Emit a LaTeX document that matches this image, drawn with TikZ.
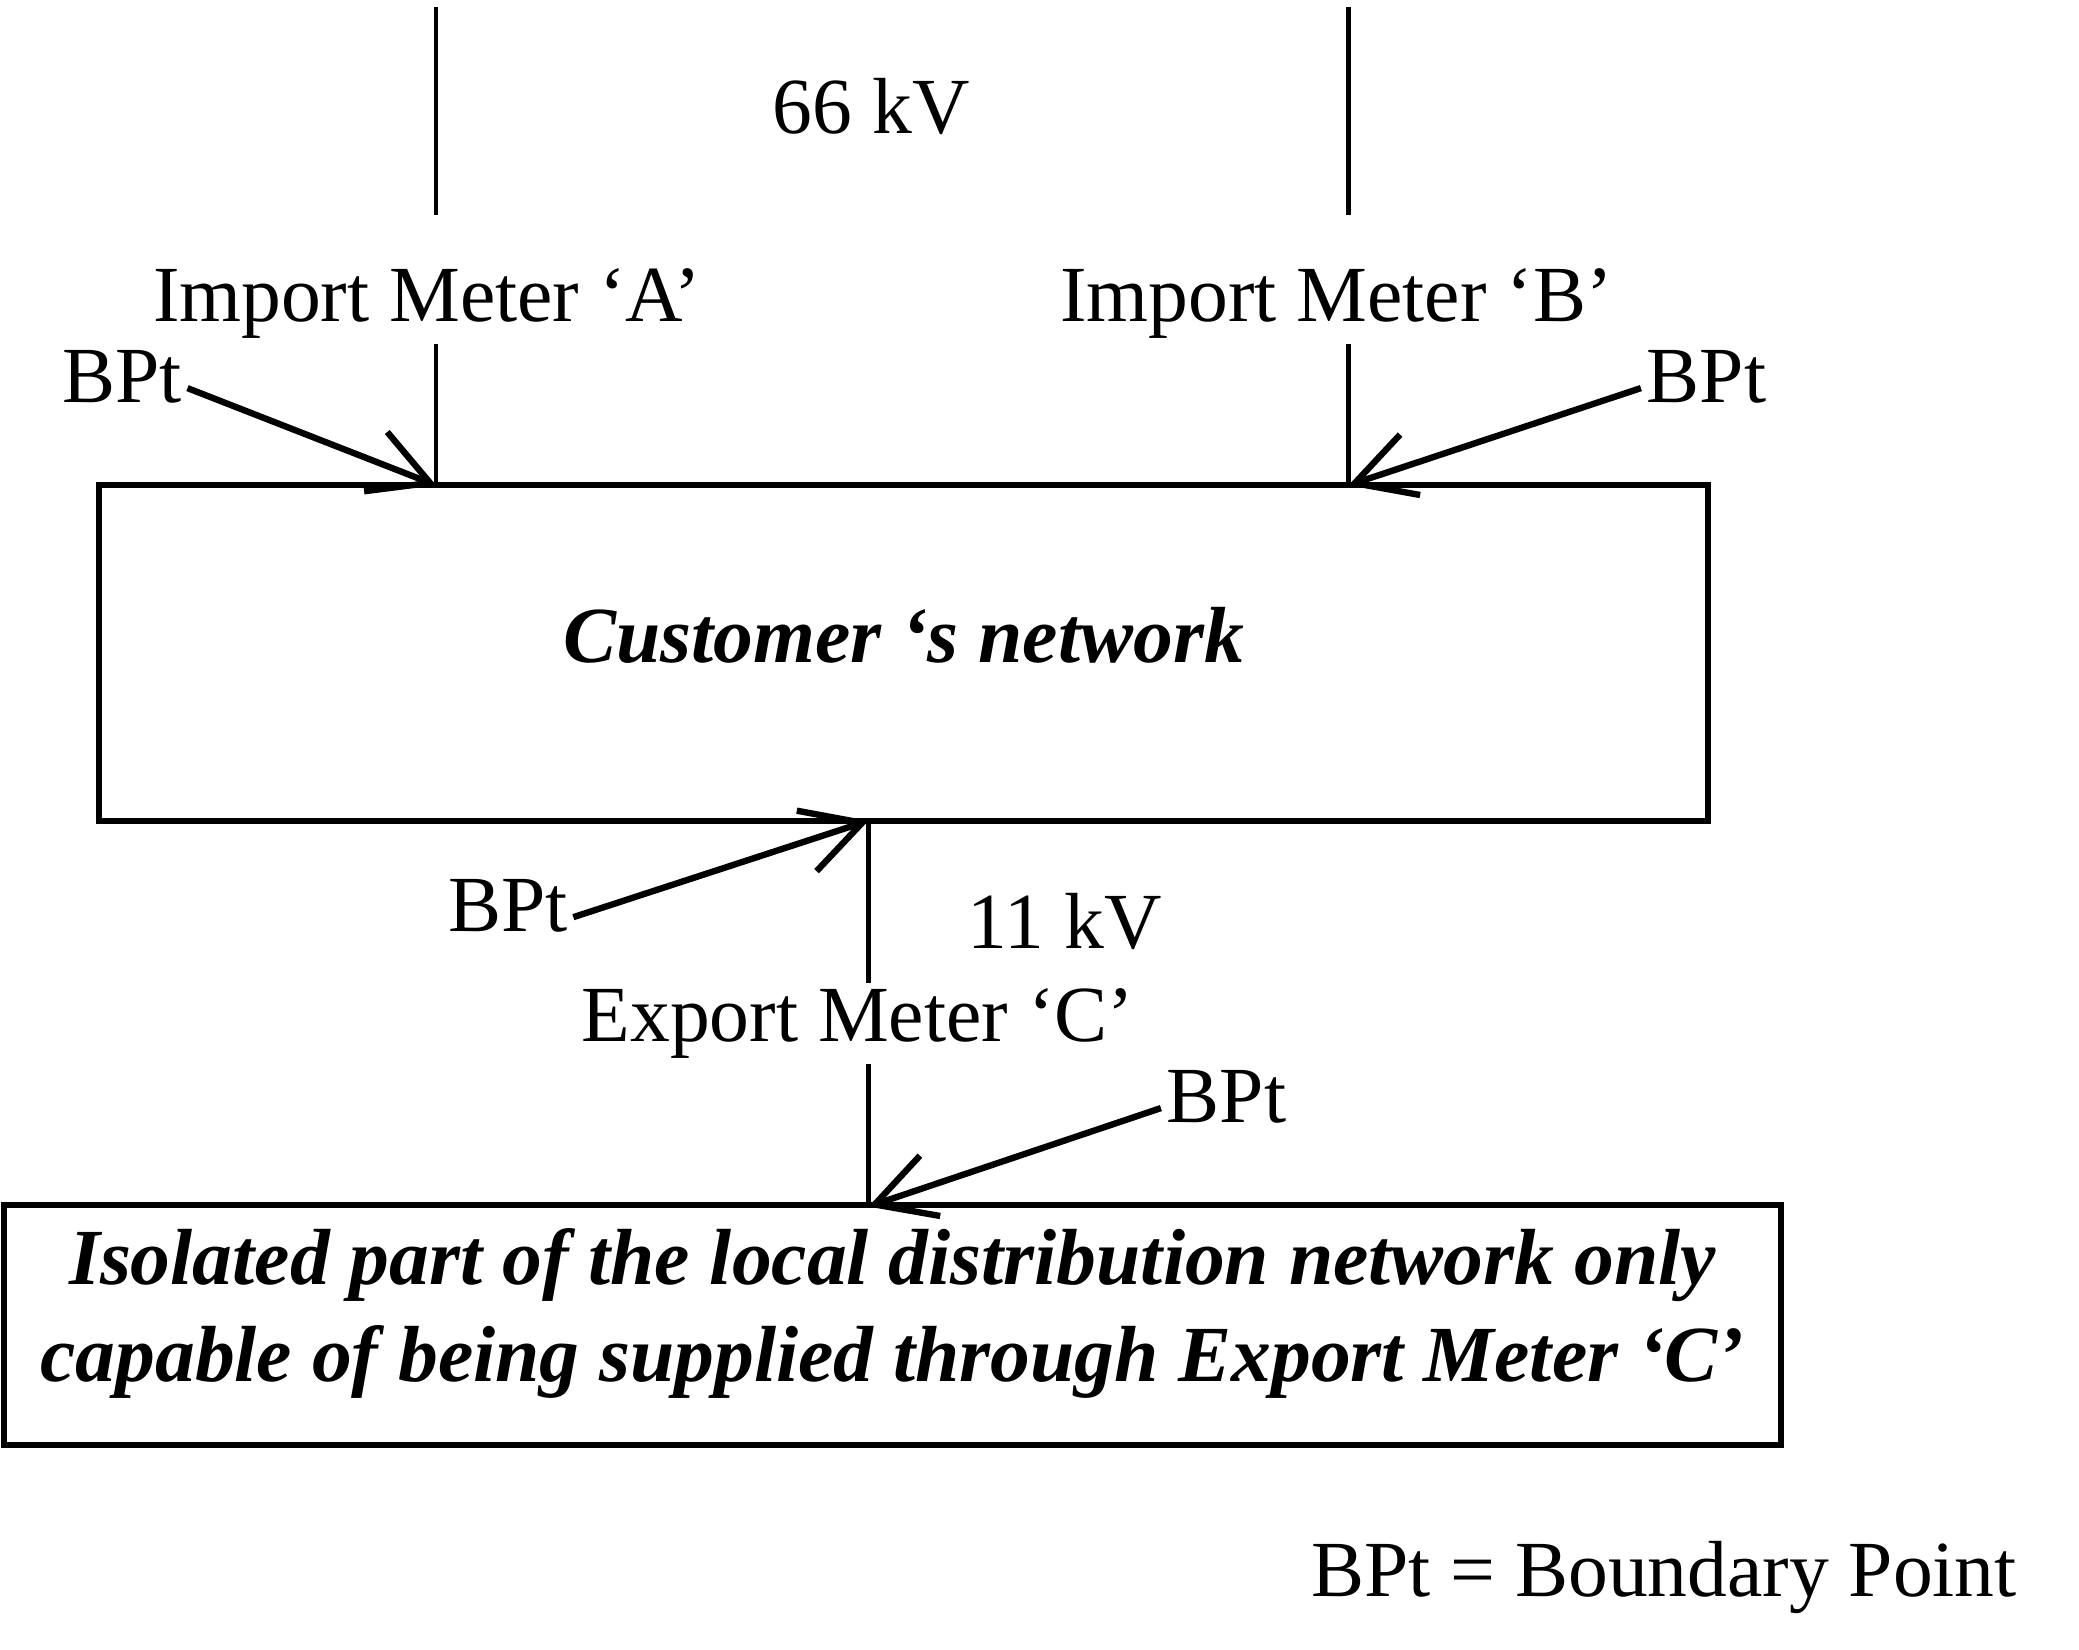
\documentclass[tikz,border=0pt]{standalone}
\usepackage{fontspec}
\setmainfont{Liberation Serif}
\usetikzlibrary{arrows.meta}
\begin{document}
\begin{tikzpicture}[x=0.5pt, y=-0.5pt,
    every node/.style={font=\fontsize{30}{36.5}\selectfont, inner sep=2pt},
    feeder/.style={line width=1.7pt},
    bpt/.style={line width=2.4pt, -{Straight Barb[length=22pt, width=24pt]}},
    network/.style={draw, line width=2.3pt, align=center, font=\fontsize{30}{36.5}\selectfont\bfseries\itshape}]
    \useasboundingbox (0,0) rectangle (1568,1244);
    \node [network, minimum width=606.5pt, minimum height=126.5pt, text depth=14pt] (customer) at (681.5,492.5) {Customer ‘s network};
    \node [network, minimum width=670pt, minimum height=90.5pt, text depth=15pt] (isolated) at (673,999.5) {Isolated part of the local distribution network only\\capable of being supplied through Export Meter ‘C’};
    \node (kv66) at (657,80) {66 kV};
    \node (meterA) at (322,229) {Import Meter ‘A’};
    \node (meterB) at (1008,229) {Import Meter ‘B’};
    \node (bptA) at (92,284) {BPt};
    \node (bptB) at (1287,284) {BPt};
    \node (bptC) at (383,683) {BPt};
    \node (kv11) at (803,695) {11 kV};
    \node (meterC) at (647,772) {Export Meter ‘C’};
    \node (bptD) at (925,827) {BPt};
    \node (legend) at (1255,1190) {BPt = Boundary Point};
    \coordinate (inA) at (329,5);
    \coordinate (outA) at (329,162);
    \coordinate (inB) at (1017,5);
    \coordinate (outB) at (1017,162);
    \coordinate (tipA) at (329,366);
    \coordinate (tipB) at (1017,366);
    \coordinate (tipC) at (655,619);
    \coordinate (tipD) at (655,910);
    \draw [feeder] (inA) -- (outA);
    \draw [feeder] (inB) -- (outB);
    \draw [feeder] (meterA.south -| tipA) -- (tipA);
    \draw [feeder] (meterB.south -| tipB) -- (tipB);
    \draw [feeder] (meterC.north -| tipC) -- (tipC);
    \draw [feeder] (meterC.south -| tipD) -- (tipD);
    \draw [bpt] (bptA.-10) -- (tipA);
    \draw [bpt] (bptB.190) -- (tipB);
    \draw [bpt] (bptC.-10) -- (tipC);
    \draw [bpt] (bptD.190) -- (tipD);
\end{tikzpicture}
\end{document}
